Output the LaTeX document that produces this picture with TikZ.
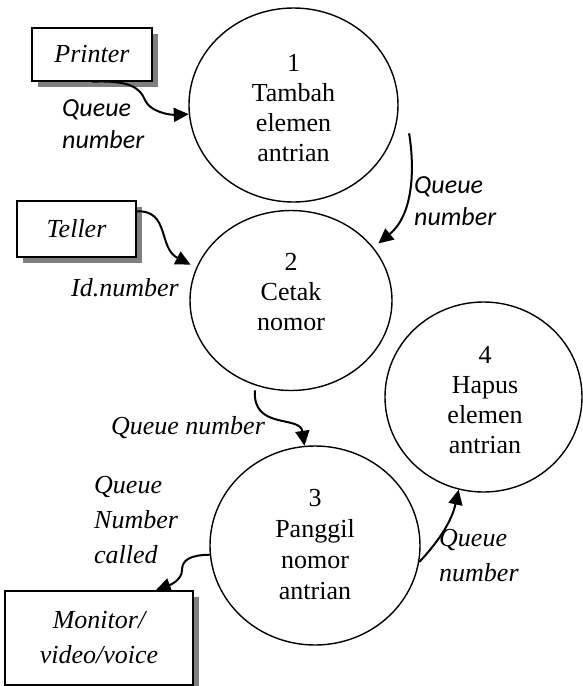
\documentclass[tikz,border=0pt]{standalone}
\usepackage{fontspec}
\setmainfont{Liberation Serif}
\newfontfamily\calfont{Carlito}
\usetikzlibrary{arrows.meta,shapes.geometric,shadows}
\begin{document}
\begin{tikzpicture}[x=1pt,y=-1pt,
  proc/.style={draw, line width=1.4pt, ellipse, inner sep=0pt},
  ptext/.style={align=center, inner sep=0pt, font=\fontsize{26}{30}\selectfont},
  ext/.style={draw, line width=1.4pt, fill=white, inner sep=0pt, align=center,
    drop shadow={shadow xshift=6pt, shadow yshift=-6pt, fill=black!50, opacity=1},
    font=\fontsize{26}{35}\selectfont\itshape},
  flow/.style={line width=2pt, -{Triangle[length=15pt,width=14pt]}},
  lbl/.style={font=\fontsize{26}{35}\selectfont\itshape, inner sep=0pt, align=left},
  slbl/.style={font=\fontsize{26}{32}\selectfont\calfont\itshape, inner sep=0pt, align=left}]
\useasboundingbox (0,0) rectangle (583,686);

% external entities
\node[ext, minimum width=120pt, minimum height=53pt] (printer) at (92,54.5) {Printer};
\node[ext, minimum width=119pt, minimum height=56pt] (teller) at (76.5,229) {Teller};
\node[ext, minimum width=188pt, minimum height=94pt] (monitor) at (99,638) {Monitor/\\video/voice};

% processes
\node[proc, minimum width=209pt, minimum height=194pt] (e1) at (293.5,105) {};
\node[ptext] (t1) at (293.5,108) {1\\Tambah\\elemen\\antrian};
\node[proc, minimum width=202pt, minimum height=180pt] (e2) at (291,300.5) {};
\node[ptext] (t2) at (291,292.5) {2\\Cetak\\nomor};
\node[proc, minimum width=210pt, minimum height=199pt] (e3) at (315,545.5) {};
\node[ptext, font=\fontsize{26}{31}\selectfont] (t3) at (315,545) {3\\Panggil\\nomor\\antrian};
\node[proc, minimum width=197pt, minimum height=190pt] (e4) at (483.5,397) {};
\node[ptext] (t4) at (485,400) {4\\Hapus\\elemen\\antrian};

% flows
\draw[flow] (printer.south) .. controls (130,80) and (140,88) .. (145,100)
  .. controls (150,112) and (170,115) .. (e1.185);
\draw[flow] ([xshift=14pt,yshift=-3pt]e1.-14) .. controls (415,170) and (413,215) .. ([shift={(4pt,5pt)}]e2.32);
\draw[flow] ([yshift=-11pt]teller.north east) .. controls (170,210) and (158,248) .. ([xshift=-7pt]e2.159);
\draw[flow] ([yshift=-5pt]e2.-113) .. controls (252,430) and (300,415) .. (e3.96);
\draw[flow] (e3.185) .. controls (190,555) and (182,560) .. (182,570)
  .. controls (182,580) and (170,585) .. ([xshift=-38pt]monitor.north east);
\draw[flow] (e3.-9) .. controls (440,540) and (452,520) .. (e4.-105);

% labels
\node[slbl, anchor=west] (l1) at (62,124) {Queue\\number};
\node[slbl, anchor=west] (l2) at (414,201) {Queue\\number};
\node[lbl] (l3) at (125,288) {Id.number};
\node[lbl] (l4) at (188,428) {Queue number};
\node[lbl, anchor=west] (l5) at (94,520) {Queue\\Number\\called};
\node[lbl, anchor=west] (l6) at (439,556) {Queue\\number};
\end{tikzpicture}
\end{document}
